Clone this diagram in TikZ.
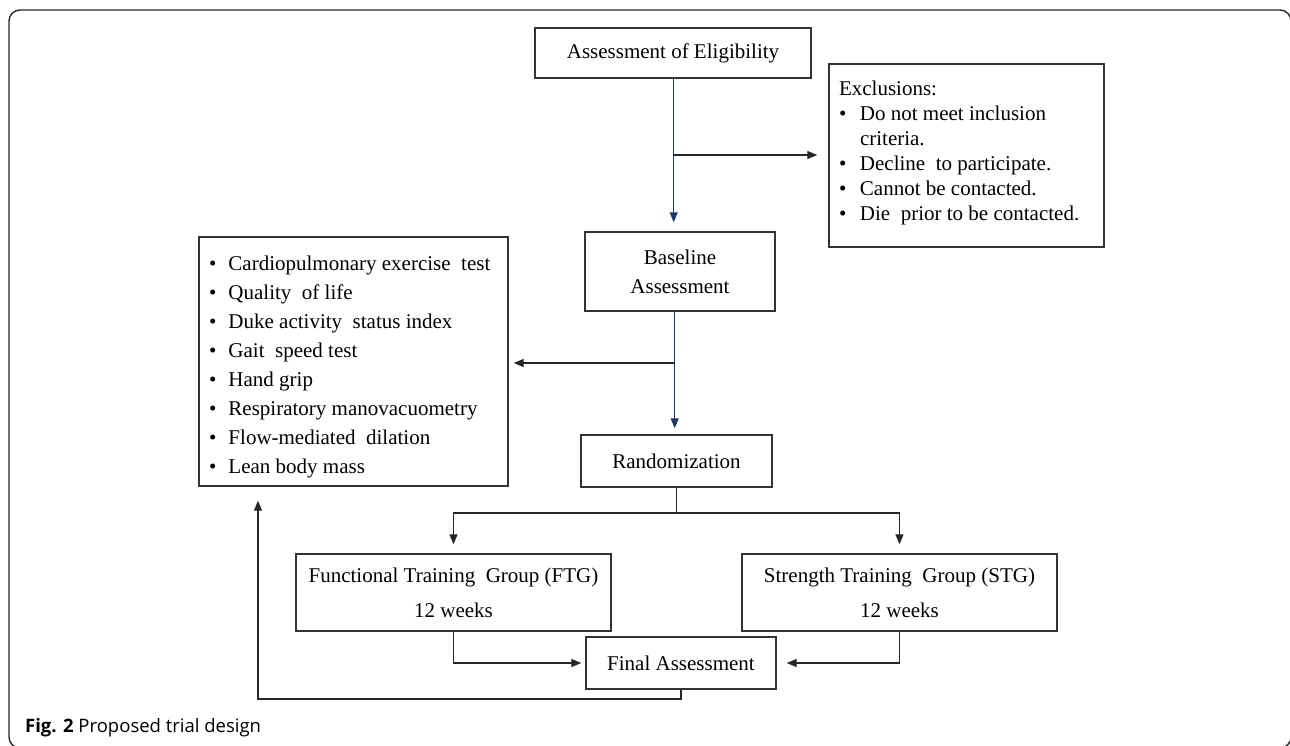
\documentclass[tikz,border=0pt]{standalone}
\usepackage{fontspec}
\setmainfont{Liberation Serif}
\newfontfamily\capfont{Open Sans}
\usetikzlibrary{arrows.meta,calc}
\definecolor{navyline}{HTML}{1F3864}
\definecolor{boxline}{HTML}{333333}
\begin{document}
\begin{tikzpicture}[x=1pt,y=-1pt,
  box/.style={draw=boxline,line width=1.4pt,inner sep=0pt,align=center,
    font=\fontsize{21}{29}\selectfont},
  con/.style={draw=black!85,line width=1.2pt,-{Triangle[length=10pt,width=8pt]}},
  navycon/.style={draw=navyline,line width=1.2pt,-{Triangle[length=10pt,width=8pt]},navyline}]
\useasboundingbox (0,0) rectangle (1290,745);
\draw[line width=1.4pt,black!85,rounded corners=11pt] (9,10) rectangle (1291,748);

\node[box,minimum width=276pt,minimum height=50pt] (elig) at (673,53) {Assessment of Eligibility};
\node[box,minimum width=275pt,minimum height=183pt] (excl) at (966.5,155.5)
  {\begin{minipage}[c][183pt][t]{255pt}\fontsize{21}{25}\selectfont\vspace{17pt}%
  Exclusions:\\
  \makebox[21pt][l]{\textbullet}Do not meet inclusion\\
  \hspace*{21pt}criteria.\\
  \makebox[21pt][l]{\textbullet}Decline\ \ to participate.\\
  \makebox[21pt][l]{\textbullet}Cannot be contacted.\\
  \makebox[21pt][l]{\textbullet}Die\ \ prior to be contacted.
  \end{minipage}};
\node[box,minimum width=190pt,minimum height=79pt] (base) at (680,271.5) {Baseline\\Assessment};
\node[box,minimum width=309pt,minimum height=249pt] (cardio) at (353.5,361.5)
  {\begin{minipage}[c][249pt][t]{289pt}\fontsize{21}{29}\selectfont\vspace{19pt}%
  \makebox[19.5pt][l]{\textbullet}Cardiopulmonary exercise\ \ test\\
  \makebox[19.5pt][l]{\textbullet}Quality\ \ of life\\
  \makebox[19.5pt][l]{\textbullet}Duke activity\ \ status index\\
  \makebox[19.5pt][l]{\textbullet}Gait\ \ speed test\\
  \makebox[19.5pt][l]{\textbullet}Hand grip\\
  \makebox[19.5pt][l]{\textbullet}Respiratory manovacuometry\\
  \makebox[19.5pt][l]{\textbullet}Flow-mediated\ \ dilation\\
  \makebox[19.5pt][l]{\textbullet}Lean body mass
  \end{minipage}};
\node[box,minimum width=191pt,minimum height=52pt] (rand) at (676.5,461) {Randomization};
\node[box,minimum width=315pt,minimum height=77pt,font=\fontsize{21}{35}\selectfont] (ftg) at (453.5,592.5) {Functional Training\ \ Group (FTG)\\12 weeks};
\node[box,minimum width=315pt,minimum height=77pt,font=\fontsize{21}{35}\selectfont] (stg) at (899.5,592.5) {Strength Training\ \ Group (STG)\\12 weeks};
\node[box,minimum width=190pt,minimum height=52pt] (final) at (681,663) {Final Assessment};

\coordinate (j1) at (673.7,155);
\coordinate (j2) at (674.7,363);
\coordinate (j3) at (676.5,513);
\coordinate (j4) at (258,699);

\draw[navycon,shorten >=9pt] (elig.south -| j1) -- (j1 |- base.north);
\draw[con,shorten >=11pt] (j1) -- (j1 -| excl.west);
\draw[navycon,shorten >=6pt] (j2 |- base.south) -- (j2 |- rand.north);
\draw[con,shorten >=5pt] (j2) -- (j2 -| cardio.east);
\draw[draw=black!85,line width=1.2pt] (rand.south) -- (j3);
\draw[con,shorten >=9pt] (j3) -| (ftg.north);
\draw[con,shorten >=9pt] (j3) -| (stg.north);
\draw[con,shorten >=4pt] (ftg.south) |- (final.west);
\draw[con,shorten >=10pt] (stg.south) |- (final.east);
\draw[con,shorten >=14pt] (final.south) |- (j4) -- (j4 |- cardio.south);

\node[anchor=base west,inner sep=0pt,font=\capfont\fontsize{18.5}{22}\selectfont] (cap) at (25,732.7) {\textbf{Fig. 2} Proposed trial design};
\end{tikzpicture}
\end{document}
